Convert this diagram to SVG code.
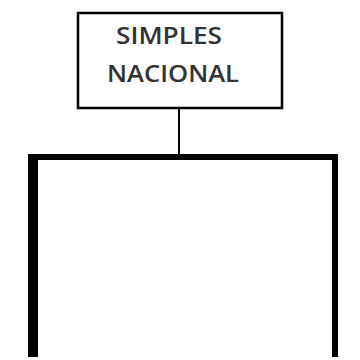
<svg xmlns="http://www.w3.org/2000/svg" width="360" height="360" viewBox="0 0 360 360">
<style>
.box{fill:#fff;stroke:#000;stroke-width:2.5}
.lbl{font-family:"Open Sans","Liberation Sans",Arial,sans-serif;font-size:24px;font-weight:600;fill:#333}
.thin{stroke:#000;stroke-width:2;fill:none}
.thick{stroke:#000;fill:none}
</style>
<rect width="360" height="360" fill="#fff"/>
<g id="connectors">
<line class="thin" x1="179" y1="108" x2="179" y2="155"/>
<line class="thick" x1="28" y1="157" x2="338" y2="157" stroke-width="6"/>
<line class="thick" x1="33" y1="154" x2="33" y2="357" stroke-width="10"/>
<line class="thick" x1="335" y1="154" x2="335" y2="357" stroke-width="6"/>
</g>
<g id="simples-nacional">
<rect class="box" x="78" y="13" width="204" height="95"/>
<text class="lbl" x="116" y="44" textLength="106" lengthAdjust="spacingAndGlyphs">SIMPLES</text>
<text class="lbl" x="107" y="82" textLength="132" lengthAdjust="spacingAndGlyphs">NACIONAL</text>
</g>
</svg>
